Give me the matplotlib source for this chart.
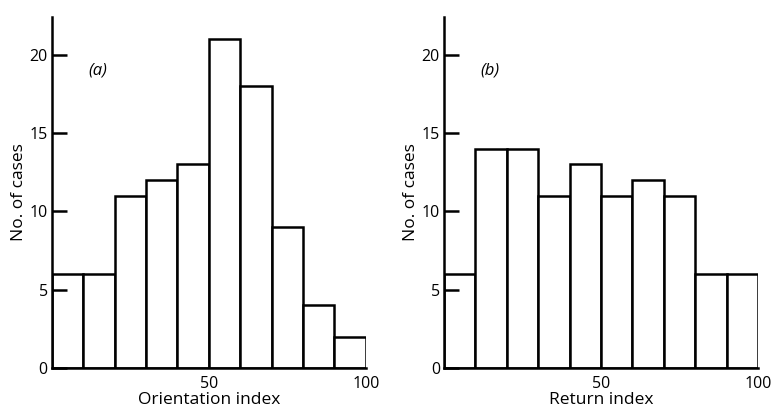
import matplotlib.pyplot as plt

bin_edges = [0, 10, 20, 30, 40, 50, 60, 70, 80, 90]
orientation_counts = [6, 6, 11, 12, 13, 21, 18, 9, 4, 2]
return_counts = [6, 14, 14, 11, 13, 11, 12, 11, 6, 6]
panel_labels = ['(a)', '(b)']
x_labels = ['Orientation index', 'Return index']

plt.rcParams['font.family'] = ['Open Sans', 'DejaVu Sans']

fig = plt.figure(figsize=(7.71, 4.12), dpi=100)
ax_a = fig.add_axes([0.0674, 0.107, 0.407, 0.852])
ax_b = fig.add_axes([0.576, 0.107, 0.407, 0.852])


def plot(ax, counts, label, xlabel):
    ax.bar(bin_edges, counts, width=10, align='edge', facecolor='white',
           edgecolor='black', linewidth=1.8)
    ax.set_xlim(0, 100)
    ax.set_ylim(0, 22.4)
    for side in ('top', 'right'):
        ax.spines[side].set_visible(False)
    for side in ('left', 'bottom'):
        ax.spines[side].set_linewidth(1.8)
    ax.set_yticks([0, 5, 10, 15, 20])
    ax.set_xticks([50, 100])
    ax.tick_params(axis='y', direction='in', length=11, width=1.8,
                   labelsize=11.5, pad=3)
    ax.tick_params(axis='x', length=0, labelsize=11.5, pad=6)
    ax.set_xlabel(xlabel, fontsize=12.5, labelpad=0)
    ax.set_ylabel('No. of cases', fontsize=12.5, labelpad=2)
    ax.text(14.6, 19.0, label, style='italic', fontsize=12,
            ha='center', va='center')


plot(ax_a, orientation_counts, panel_labels[0], x_labels[0])
plot(ax_b, return_counts, panel_labels[1], x_labels[1])

fig.savefig('out.png', dpi=100)
